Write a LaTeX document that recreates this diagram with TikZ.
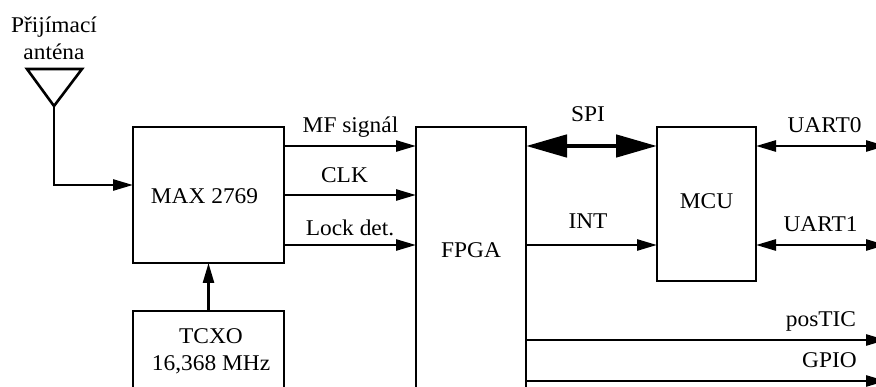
\documentclass[tikz,border=0pt]{standalone}
\usepackage{fontspec}
\setmainfont{Liberation Serif}[FakeStretch=1.04]
\usetikzlibrary{arrows.meta}
\tikzset{
  x=1pt,y=-1pt,
  block/.style={draw=black,line width=2.6pt,rectangle,inner sep=0pt,outer sep=0pt},
  txt/.style={font=\fontsize{22.5}{27}\selectfont,inner sep=0pt,outer sep=0pt,align=center,text=black},
  btxt/.style={txt,anchor=base},
  sig/.style={draw=black,line width=2.6pt,-{Triangle[length=20pt,width=11pt,fill=black]}},
  bidir/.style={draw=black,line width=2.6pt,{Triangle[length=20pt,width=11pt,fill=black]}-{Triangle[length=20pt,width=11pt,fill=black]}},
  bus/.style={draw=black,line width=4.8pt,{Triangle[length=41pt,width=22pt,fill=black]}-{Triangle[length=41pt,width=22pt,fill=black]}}
}
\begin{document}
\begin{tikzpicture}
\useasboundingbox (0,0) rectangle (876,387);
\clip (0,0) rectangle (876,387);
% blocks
\node[block,minimum width=151pt,minimum height=136pt] (max) at (208.5,195) {};
\node[block,minimum width=151pt,minimum height=136pt] (tcxo) at (208.5,379) {};
\node[block,minimum width=110pt,minimum height=320pt] (fpga) at (471,287) {};
\node[block,minimum width=99pt,minimum height=154pt] (mcu) at (706.5,204) {};
% block texts
\node[btxt] (tmax) at (204.5,204) {MAX 2769};
\node[txt] (ttcxo) at (211,351) {TCXO\\16,368 MHz};
\node[btxt] (tfpga) at (471,258) {FPGA};
\node[btxt] (tmcu) at (706.5,209) {MCU};
% antenna
\coordinate (anttip) at (54,106);
\coordinate (antl) at (27,69);
\coordinate (antr) at (82,69);
\draw[line width=2.6pt,line join=miter,draw=black] (antl) -- (antr) -- (anttip) -- cycle;
\node[txt] (tant) at (54,38) {Přijímací\\anténa};
% rows
\coordinate (r1) at (0,146);
\coordinate (r2) at (0,195);
\coordinate (r3) at (0,245);
\coordinate (r4) at (0,340);
\coordinate (r5) at (0,381);
\coordinate (rant) at (0,185);
\coordinate (xend) at (886,0);
% connectors
\draw[sig] (anttip) -- (anttip |- rant) -- (max.west |- rant);
\draw[sig] (tcxo.north) -- (max.south);
\draw[sig] (max.east |- r1) -- (fpga.west |- r1);
\draw[sig] (max.east |- r2) -- (fpga.west |- r2);
\draw[sig] (max.east |- r3) -- (fpga.west |- r3);
\draw[bus] (fpga.east |- r1) -- (mcu.west |- r1);
\draw[sig] (fpga.east |- r3) -- (mcu.west |- r3);
\draw[bidir] (mcu.east |- r1) -- (xend |- r1);
\draw[bidir] (mcu.east |- r3) -- (xend |- r3);
\draw[sig] (fpga.east |- r4) -- (xend |- r4);
\draw[sig] (fpga.east |- r5) -- (xend |- r5);
% labels
\node[btxt] (lmf) at (350.5,133) {MF signál};
\node[btxt] (lclk) at (344.5,183) {CLK};
\node[btxt] (llock) at (350,236) {Lock det.};
\node[btxt] (lspi) at (588,122) {SPI};
\node[btxt] (lint) at (588,229) {INT};
\node[btxt] (lu0) at (824.5,133) {UART0};
\node[btxt] (lu1) at (820.5,232) {UART1};
\node[btxt] (lpos) at (821,327) {posTIC};
\node[btxt] (lgpio) at (829.5,368) {GPIO};
\end{tikzpicture}
\end{document}
